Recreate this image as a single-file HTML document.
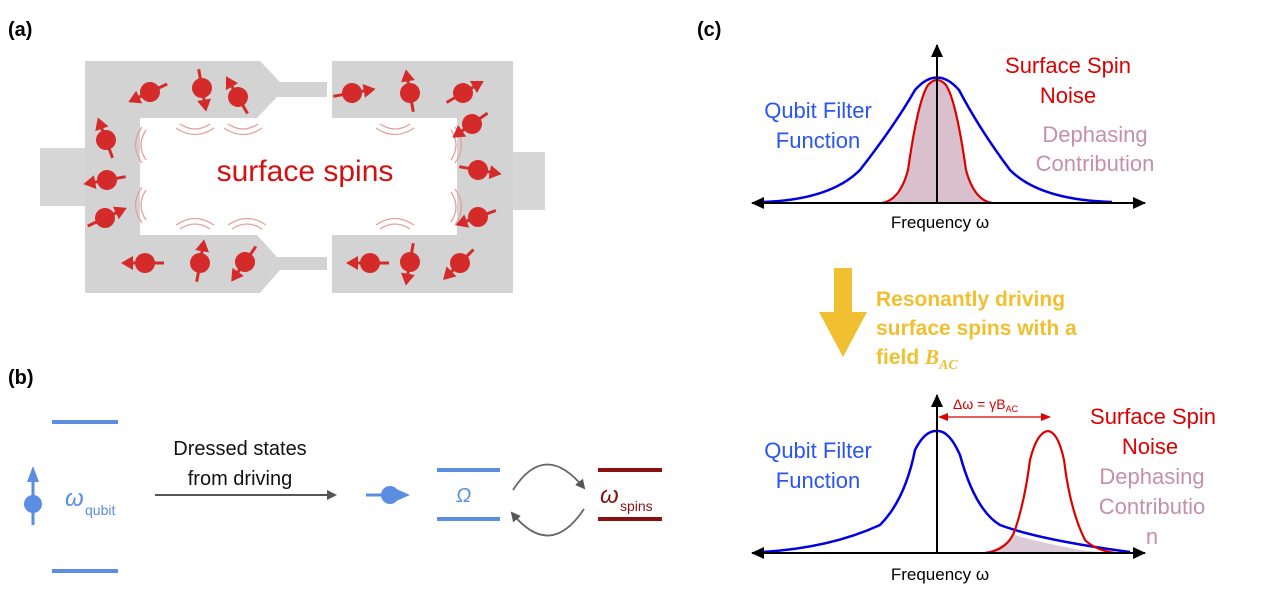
<!DOCTYPE html>
<html><head><meta charset="utf-8"><style>
html,body{margin:0;padding:0;background:#fff}
svg{display:block}
text{font-family:"Liberation Sans",sans-serif}
</style></head><body>
<svg width="1280" height="609" viewBox="0 0 1280 609" xmlns="http://www.w3.org/2000/svg">
<defs>
<g id="sp"><line x1="-19" y1="0" x2="14" y2="0" stroke="#d42a2a" stroke-width="3"/><polygon points="24,0 12,-7 12,7" fill="#d42a2a"/><circle r="10" fill="#d42a2a"/></g>
<marker id="ag" markerWidth="10" markerHeight="10" refX="8" refY="5" orient="auto" markerUnits="userSpaceOnUse"><polygon points="0,0 10,5 0,10" fill="#555"/></marker>
<marker id="ak" markerWidth="14" markerHeight="14" refX="12" refY="7" orient="auto" markerUnits="userSpaceOnUse"><polygon points="0,1 13,7 0,13" fill="#000"/></marker>
<marker id="ar" markerWidth="10" markerHeight="10" refX="9" refY="5" orient="auto" markerUnits="userSpaceOnUse"><polygon points="0,1 10,5 0,9" fill="#d00"/></marker>
</defs>
<text x="8" y="36" font-size="20" font-weight="bold">(a)</text>
<text x="8" y="384" font-size="20" font-weight="bold">(b)</text>
<text x="697" y="36" font-size="20" font-weight="bold">(c)</text>

<!-- (a) -->
<rect x="40" y="148" width="45" height="58" fill="#d6d6d6"/>
<rect x="513" y="152" width="32" height="58" fill="#d6d6d6"/>
<polygon fill="#d3d3d3" points="85,61 260,61 280,82 327,82 327,97 277,97 257,118 140,118 140,235 257,235 277,257 327,257 327,270 280,270 260,293 85,293"/>
<polygon fill="#d3d3d3" points="332,61 513,61 513,293 332,293 332,235 457,235 457,118 332,118"/>
<g fill="none" stroke="#e3a0a0" stroke-width="1.3">
<path d="M180,124 q15,10 30,0 M176,128 q19,13 38,0"/><path d="M228,124 q15,10 30,0 M224,128 q19,13 38,0"/>
<path d="M380,124 q15,10 30,0 M376,128 q19,13 38,0"/>
<path d="M180,229 q15,-10 30,0 M176,225 q19,-13 38,0"/><path d="M232,229 q15,-10 30,0 M228,225 q19,-13 38,0"/>
<path d="M380,229 q15,-10 30,0 M376,225 q19,-13 38,0"/>
<path d="M146,130 q-10,15 0,30 M142,127 q-13,18 0,36"/><path d="M146,190 q-10,15 0,30 M142,187 q-13,18 0,36"/>
<path d="M451,130 q10,15 0,30 M455,127 q13,18 0,36"/><path d="M451,192 q10,15 0,30 M455,189 q13,18 0,36"/>
</g>
<text x="305" y="181" font-size="30" fill="#d41010" text-anchor="middle">surface spins</text>
<use href="#sp" transform="translate(150,92) rotate(155)"/>
<use href="#sp" transform="translate(202,88) rotate(80)"/>
<use href="#sp" transform="translate(238,97) rotate(-120)"/>
<use href="#sp" transform="translate(106,140) rotate(-110)"/>
<use href="#sp" transform="translate(107,180) rotate(170)"/>
<use href="#sp" transform="translate(105,218) rotate(-25)"/>
<use href="#sp" transform="translate(145,263) rotate(180)"/>
<use href="#sp" transform="translate(200,263) rotate(-80)"/>
<use href="#sp" transform="translate(245,262) rotate(125)"/>
<use href="#sp" transform="translate(352,93) rotate(-10)"/>
<use href="#sp" transform="translate(410,93) rotate(-100)"/>
<use href="#sp" transform="translate(463,93) rotate(-30)"/>
<use href="#sp" transform="translate(472,124) rotate(145)"/>
<use href="#sp" transform="translate(478,170) rotate(10)"/>
<use href="#sp" transform="translate(478,217) rotate(160)"/>
<use href="#sp" transform="translate(370,263) rotate(180)"/>
<use href="#sp" transform="translate(410,262) rotate(100)"/>
<use href="#sp" transform="translate(460,263) rotate(135)"/>

<!-- (b) -->
<g stroke="#5b8de0" stroke-width="4">
<line x1="52" y1="422" x2="118" y2="422"/><line x1="52" y1="571" x2="118" y2="571"/>
<line x1="437" y1="470" x2="500" y2="470"/><line x1="437" y1="519" x2="500" y2="519"/>
</g>
<g stroke="#8b1010" stroke-width="4"><line x1="598" y1="470" x2="662" y2="470"/><line x1="598" y1="519" x2="662" y2="519"/></g>
<line x1="33" y1="525" x2="33" y2="480" stroke="#5b8de0" stroke-width="3"/><polygon points="33,466 27,482 39,482" fill="#5b8de0"/><circle cx="33" cy="504" r="9" fill="#5b8de0"/>
<text x="65" y="506" font-size="24" font-style="italic" fill="#5b8de0" font-family="Liberation Serif,serif">ω</text>
<text x="85" y="515" font-size="14" fill="#5b8de0">qubit</text>
<text x="240" y="455" font-size="20" text-anchor="middle" fill="#111">Dressed states</text>
<text x="240" y="485" font-size="20" text-anchor="middle" fill="#111">from driving</text>
<line x1="155" y1="495" x2="335" y2="495" stroke="#555" stroke-width="2" marker-end="url(#ag)"/>
<line x1="366" y1="495" x2="395" y2="495" stroke="#5b8de0" stroke-width="3"/><polygon points="410,495 394,488 394,502" fill="#5b8de0"/><circle cx="390" cy="495" r="9" fill="#5b8de0"/>
<text x="456" y="502" font-size="20" font-style="italic" fill="#5b8de0" font-family="Liberation Serif,serif">Ω</text>
<path d="M513,490 Q545,440 584,488" fill="none" stroke="#666" stroke-width="1.8" marker-end="url(#ag)"/>
<path d="M584,509 Q550,560 512,513" fill="none" stroke="#666" stroke-width="1.8" marker-end="url(#ag)"/>
<text x="600" y="503" font-size="24" font-style="italic" fill="#8b1010" font-family="Liberation Serif,serif">ω</text>
<text x="620" y="511" font-size="14" fill="#8b1010">spins</text>

<!-- (c) top -->
<path d="M882,203 Q900,200 908,170 Q918,100 928,85 Q937,75 946,85 Q956,100 966,170 Q974,200 992,203 Z" fill="#d9c0cc"/>
<path d="M762,202 Q830,200 860,170 Q895,125 915,90 Q937,65 959,90 Q980,130 1010,170 Q1040,200 1112,202" fill="none" stroke="#0000e0" stroke-width="2.5"/>
<path d="M882,203 Q900,200 908,170 Q918,100 928,85 Q937,75 946,85 Q956,100 966,170 Q974,200 992,203" fill="none" stroke="#d00" stroke-width="2.2"/>
<line x1="937" y1="203" x2="937" y2="45" stroke="#000" stroke-width="2" marker-end="url(#ak)"/>
<line x1="940" y1="203" x2="1145" y2="203" stroke="#000" stroke-width="2" marker-end="url(#ak)"/>
<line x1="940" y1="203" x2="752" y2="203" stroke="#000" stroke-width="2" marker-end="url(#ak)"/>
<text x="940" y="228" font-size="17" text-anchor="middle">Frequency ω</text>
<text x="818" y="118" font-size="22" fill="#2a55f0" text-anchor="middle">Qubit Filter</text>
<text x="818" y="148" font-size="22" fill="#2a55f0" text-anchor="middle">Function</text>
<text x="1068" y="73" font-size="22" fill="#d00" text-anchor="middle">Surface Spin</text>
<text x="1068" y="103" font-size="22" fill="#d00" text-anchor="middle">Noise</text>
<text x="1095" y="142" font-size="22" fill="#c490aa" text-anchor="middle">Dephasing</text>
<text x="1095" y="171" font-size="22" fill="#c490aa" text-anchor="middle">Contribution</text>

<!-- yellow arrow -->
<polygon points="834,268 852,268 852,312 867,312 843,357 819,312 834,312" fill="#f0c030"/>
<text x="876" y="306" font-size="21" font-weight="bold" fill="#f0c030">Resonantly driving</text>
<text x="876" y="335" font-size="21" font-weight="bold" fill="#f0c030">surface spins with a</text>
<text x="876" y="364" font-size="21" font-weight="bold" fill="#f0c030">field <tspan font-family="Liberation Serif,serif" font-style="italic">B</tspan><tspan font-size="14" dy="5" font-family="Liberation Serif,serif" font-style="italic">AC</tspan></text>

<!-- (c) bottom -->
<path d="M985,553 Q1005,545 1015,535 Q1030,540 1080,550 L1110,553 Z" fill="#dccad6"/>
<path d="M762,552 Q830,548 880,525 Q905,500 915,450 Q925,430 937,431 Q949,430 960,455 Q975,510 1000,525 Q1040,540 1130,552" fill="none" stroke="#0000e0" stroke-width="2.5"/>
<path d="M985,553 Q1008,550 1015,530 Q1025,500 1030,460 Q1037,432 1048,431 Q1058,432 1064,460 Q1070,510 1085,540 Q1095,550 1115,553" fill="none" stroke="#d00" stroke-width="2.2"/>
<line x1="937" y1="553" x2="937" y2="395" stroke="#000" stroke-width="2" marker-end="url(#ak)"/>
<line x1="940" y1="553" x2="1145" y2="553" stroke="#000" stroke-width="2" marker-end="url(#ak)"/>
<line x1="940" y1="553" x2="752" y2="553" stroke="#000" stroke-width="2" marker-end="url(#ak)"/>
<line x1="960" y1="417" x2="1050" y2="417" stroke="#d00" stroke-width="1.3" marker-end="url(#ar)"/>
<line x1="960" y1="417" x2="939" y2="417" stroke="#d00" stroke-width="1.3" marker-end="url(#ar)"/>
<text x="953" y="409" font-size="14" fill="#d00">Δω = γB<tspan font-size="9" dy="3">AC</tspan></text>
<text x="940" y="580" font-size="17" text-anchor="middle">Frequency ω</text>
<text x="818" y="458" font-size="22" fill="#2a55f0" text-anchor="middle">Qubit Filter</text>
<text x="818" y="488" font-size="22" fill="#2a55f0" text-anchor="middle">Function</text>
<text x="1153" y="424" font-size="22" fill="#d00" text-anchor="middle">Surface Spin</text>
<text x="1150" y="454" font-size="22" fill="#d00" text-anchor="middle">Noise</text>
<text x="1152" y="484" font-size="22" fill="#c490aa" text-anchor="middle">Dephasing</text>
<text x="1152" y="514" font-size="22" fill="#c490aa" text-anchor="middle">Contributio</text>
<text x="1152" y="544" font-size="22" fill="#c490aa" text-anchor="middle">n</text>
</svg>
</body></html>
